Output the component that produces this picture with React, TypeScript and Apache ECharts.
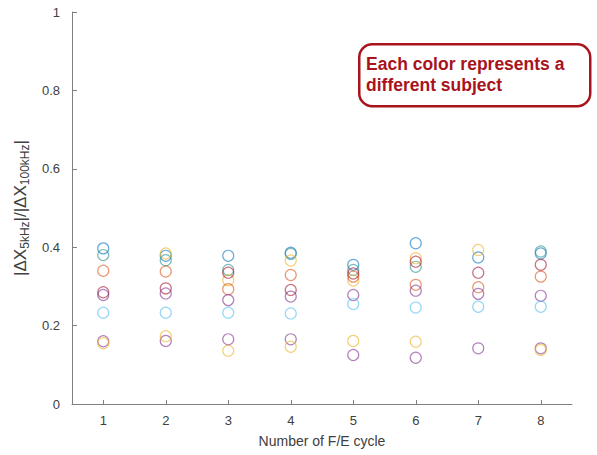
import React, { useEffect, useRef } from "react";
import * as echarts from "echarts";

const cycles = [1, 2, 3, 4, 5, 6, 7, 8];
const yTicks = [0, 0.2, 0.4, 0.6, 0.8, 1];

const subjectNames = ["S1", "S2", "S3", "S4", "S5", "S6", "S7", "S8", "S9"];
const subjectColors = ["#0072BD", "#2a8f8f", "#EDB120", "#D95319", "#A2142F", "#7E2F8E", "#4DBEEE", "#7E2F8E", "#EDB120"];

const s1 = [0.397, 0.378, 0.378, 0.386, 0.355, 0.41, 0.374, 0.384];
const s2 = [0.38, 0.367, 0.342, 0.383, 0.342, 0.35, null, 0.389];
const s3 = [null, 0.384, 0.316, 0.366, 0.315, 0.372, 0.393, null];
const s4 = [0.34, 0.338, 0.293, 0.329, 0.325, 0.304, 0.298, 0.325];
const s5 = [0.285, 0.295, 0.335, 0.291, 0.333, 0.363, 0.335, 0.355];
const s6 = [0.278, 0.282, 0.265, 0.274, 0.278, 0.289, 0.281, 0.276];
const s7 = [0.233, 0.233, 0.233, 0.231, 0.255, 0.246, 0.248, 0.248];
const s8 = [0.16, 0.161, 0.165, 0.165, 0.125, 0.118, 0.142, 0.142];
const s9 = [0.155, 0.173, 0.136, 0.146, 0.161, 0.159, null, 0.138];
const subjects = [s1, s2, s3, s4, s5, s6, s7, s8, s9];

const FONT = "Liberation Sans, Arial, sans-serif";

export default function App() {
  const ref = useRef<HTMLDivElement>(null);
  useEffect(() => {
    const chart = echarts.init(ref.current!, undefined, { renderer: "svg" });
    const series = subjects.map((vals, i) => ({
      type: "scatter",
      name: subjectNames[i],
      symbol: "circle",
      symbolSize: 11,
      data: vals.map((v, j) => (v == null ? null : [cycles[j], v])).filter((d) => d !== null),
      itemStyle: {
        color: "rgba(0,0,0,0)",
        borderColor: subjectColors[i],
        borderWidth: 1.2,
        opacity: 0.6,
      },
    }));
    chart.setOption({
      animation: false,
      backgroundColor: "#ffffff",
      grid: { left: 72, right: 25, top: 12, bottom: 51, containLabel: false },
      xAxis: {
        type: "value",
        min: 0.5,
        max: 8.5,
        name: "Number of F/E cycle",
        nameLocation: "middle",
        nameGap: 30,
        nameTextStyle: { fontFamily: FONT, fontSize: 14, color: "#404040" },
        axisLine: { lineStyle: { color: "#808080", width: 1 } },
        axisTick: { inside: true, length: 4, customValues: cycles, lineStyle: { color: "#808080" } },
        axisLabel: { customValues: cycles, fontFamily: FONT, fontSize: 13, color: "#404040", margin: 10 },
        splitLine: { show: false },
      },
      yAxis: {
        type: "value",
        min: 0,
        max: 1,
        interval: 0.2,
        name: "|ΔX{s|5kHz}|/|ΔX{s|100kHz}|",
        nameLocation: "middle",
        nameGap: 41,
        nameTextStyle: {
          fontFamily: FONT,
          fontSize: 17,
          color: "#404040",
          rich: {
            s: { fontFamily: FONT, fontSize: 12, color: "#404040", verticalAlign: "bottom", padding: [9, 0, 0, 0] },
          },
        },
        axisLine: { show: true, lineStyle: { color: "#808080", width: 1 } },
        axisTick: { show: true, inside: true, length: 5, lineStyle: { color: "#808080" } },
        axisLabel: {
          fontFamily: FONT,
          fontSize: 13,
          color: "#404040",
          margin: 12,
          formatter: (v: number) => (yTicks.includes(Math.round(v * 10) / 10) ? String(Math.round(v * 10) / 10) : ""),
        },
        splitLine: { show: false },
      },
      series,
      graphic: [
        {
          type: "rect",
          left: 358,
          top: 43,
          shape: { width: 231, height: 62, r: 13 },
          style: { fill: "#ffffff", stroke: "#A8131C", lineWidth: 2.5 },
        },
        {
          type: "text",
          left: 366,
          top: 53,
          style: {
            text: "Each color represents a\ndifferent subject",
            fill: "#A8131C",
            font: "bold 17.5px Liberation Sans, Arial, sans-serif",
            lineHeight: 21,
          },
        },
      ],
    });
    return () => chart.dispose();
  }, []);
  return <div ref={ref} style={{ width: 597, height: 455, position: "absolute", left: 0, top: 0 }} />;
}
